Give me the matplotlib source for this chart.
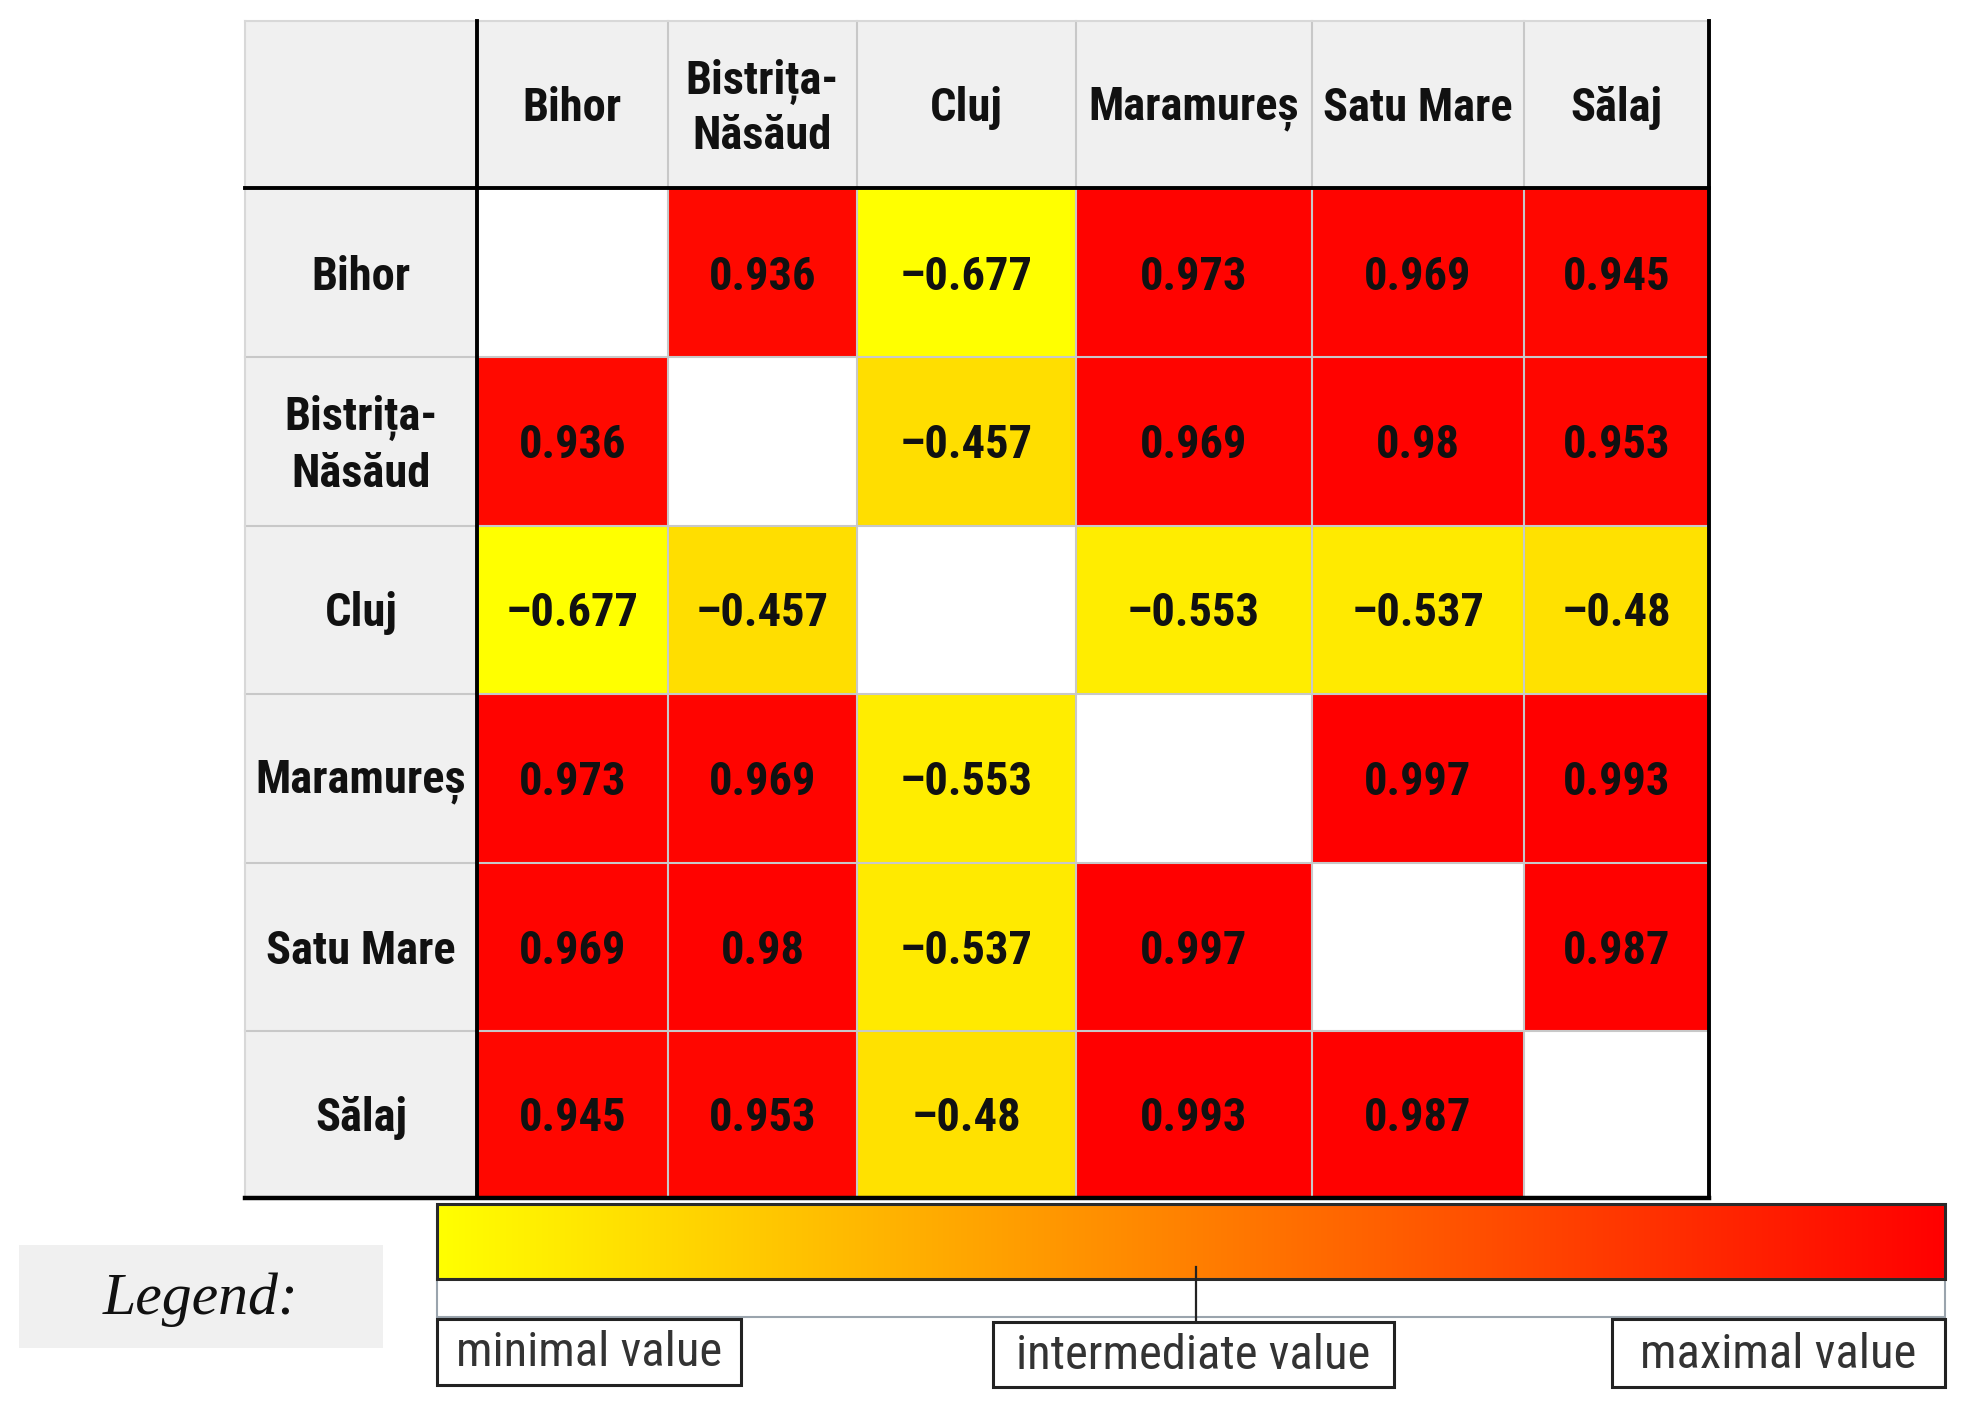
import matplotlib
matplotlib.use("Agg")
import matplotlib.pyplot as plt
import numpy as np
from matplotlib import font_manager as fm
from matplotlib.colors import LinearSegmentedColormap, Normalize
from matplotlib.patches import Rectangle

counties = ["Bihor", "Bistrița-\nNăsăud", "Cluj", "Maramureș", "Satu Mare", "Sălaj"]
row_labels = ["Bihor", "Bistrița-\nNăsăud", "Cluj", "Maramureș", "Satu Mare", "Sălaj"]
corr = [
    [None, 0.936, -0.677, 0.973, 0.969, 0.945],
    [0.936, None, -0.457, 0.969, 0.98, 0.953],
    [-0.677, -0.457, None, -0.553, -0.537, -0.48],
    [0.973, 0.969, -0.553, None, 0.997, 0.993],
    [0.969, 0.98, -0.537, 0.997, None, 0.987],
    [0.945, 0.953, -0.48, 0.993, 0.987, None],
]
legend_labels = ["minimal value", "intermediate value", "maximal value"]

installed = {f.name for f in fm.fontManager.ttflist}


def pick(cands):
    for c in cands:
        if c in installed:
            return [c, "DejaVu Sans"]
    return ["DejaVu Sans"]


FONT = pick(["Roboto Condensed", "Barlow Semi Condensed", "Archivo Narrow", "Asap Condensed"])
LFONT = pick(["Roboto Condensed", "Archivo Narrow", "Asap Condensed"])
SERIF = pick(["Liberation Serif", "DejaVu Serif"])

# layout (canvas units)
col_edges = [195, 380, 532, 683, 857, 1045, 1214, 1362]
row_edges = [17, 150, 285, 419, 553, 688, 822, 955]

cmap = LinearSegmentedColormap.from_list("ylrd", ["#FFFF00", "#FF8000", "#FF0000"])
vals = [v for r in corr for v in r if v is not None]
norm = Normalize(vmin=min(vals), vmax=max(vals))

fig = plt.figure(figsize=(19.68, 14.11), dpi=100)
ax = fig.add_axes([0, 0, 1, 1])
ax.set_xlim(0, 1568)
ax.set_ylim(1125, 0)
ax.axis("off")

HDR = "#F0F0F0"
fs = 33.5
TXT = "#111111"
dy = 3

# header cells
ax.add_patch(Rectangle((col_edges[0], row_edges[0]), col_edges[-1] - col_edges[0],
                       row_edges[1] - row_edges[0], facecolor=HDR, edgecolor="none", zorder=1))
ax.add_patch(Rectangle((col_edges[0], row_edges[0]), col_edges[1] - col_edges[0],
                       row_edges[-1] - row_edges[0], facecolor=HDR, edgecolor="none", zorder=1))

for j, name in enumerate(counties):
    cx = (col_edges[j + 1] + col_edges[j + 2]) / 2
    cy = (row_edges[0] + row_edges[1]) / 2 + dy
    ax.text(cx, cy, name, ha="center", va="center", fontsize=fs, fontweight="bold",
            family=FONT, color=TXT, linespacing=1.25, zorder=5)
for i, name in enumerate(row_labels):
    cx = (col_edges[0] + col_edges[1]) / 2
    cy = (row_edges[i + 1] + row_edges[i + 2]) / 2 + dy
    ax.text(cx, cy, name, ha="center", va="center", fontsize=fs, fontweight="bold",
            family=FONT, color=TXT, linespacing=1.3, zorder=5)

for i, row in enumerate(corr):
    for j, v in enumerate(row):
        x0, x1 = col_edges[j + 1], col_edges[j + 2]
        y0, y1 = row_edges[i + 1], row_edges[i + 2]
        fc = "white" if v is None else cmap(norm(v))
        ax.add_patch(Rectangle((x0, y0), x1 - x0, y1 - y0, facecolor=fc, edgecolor="none", zorder=1))
        if v is not None:
            txt = f"{v:g}".replace("-", "\u2013")
            ax.text((x0 + x1) / 2, (y0 + y1) / 2 + dy, txt, ha="center", va="center", fontsize=fs,
                    fontweight="bold", family=FONT, color=TXT, zorder=5)

# inner grid lines
for x in col_edges[2:-1]:
    ax.plot([x, x], [row_edges[0], row_edges[-1]], color="#C8C8C8", lw=1.5, zorder=3)
for y in row_edges[2:-1]:
    ax.plot([col_edges[0], col_edges[-1]], [y, y], color="#C8C8C8", lw=1.5, zorder=3)
ax.plot([col_edges[0], col_edges[-1]], [row_edges[0]] * 2, color="#D8D8D8", lw=1.5, zorder=3)
ax.plot([col_edges[0]] * 2, [row_edges[0], row_edges[-1]], color="#D8D8D8", lw=1.5, zorder=3)
# thick black lines
ax.plot([col_edges[1]] * 2, [row_edges[0], row_edges[-1]], color="black", lw=2.8, zorder=4)
ax.plot([col_edges[0], col_edges[-1]], [row_edges[1]] * 2, color="black", lw=2.8, zorder=4)
ax.plot([col_edges[-1]] * 2, [row_edges[0], row_edges[-1]], color="black", lw=2.8, zorder=4)
ax.plot([col_edges[0], col_edges[-1]], [row_edges[-1]] * 2, color="black", lw=3.2, zorder=4)

# legend gradient bar
bx0, bx1, by0, by1 = 348, 1550, 960, 1020
grad = np.linspace(0, 1, 512).reshape(1, -1)
ax.imshow(grad, cmap=cmap, extent=[bx0, bx1, by1, by0], aspect="auto", zorder=2,
          interpolation="bilinear")
ax.add_patch(Rectangle((bx0, by0), bx1 - bx0, by1 - by0, facecolor="none",
                       edgecolor="#2a2a2a", lw=2.2, zorder=4))
# bracket under bar
ax.add_patch(Rectangle((bx0, by1), bx1 - bx0, 30, facecolor="white",
                       edgecolor="#9aa4ad", lw=1.5, zorder=2))
mx = (bx0 + bx1) / 2 + 4
ax.plot([mx, mx], [1010, 1054], color="#222222", lw=1.6, zorder=5)

# legend label boxes
boxes = [(348, 590, 1052, 1104), (791, 1111, 1054, 1106), (1284, 1550, 1052, 1106)]
for (x0, x1, y0, y1), lab in zip(boxes, legend_labels):
    ax.add_patch(Rectangle((x0, y0), x1 - x0, y1 - y0, facecolor="white",
                           edgecolor="#222222", lw=2.2, zorder=4))
    ax.text((x0 + x1) / 2, (y0 + y1) / 2 + 1, lab, ha="center", va="center", fontsize=35,
            family=LFONT, color="#333333", zorder=5)

# "Legend:" box
ax.add_patch(Rectangle((15, 993), 290, 82, facecolor=HDR, edgecolor="none", zorder=1))
ax.text(160, 1036, "Legend:", ha="center", va="center", fontsize=43, style="italic",
        family=SERIF, color=TXT, zorder=5)

fig.savefig("out.png", dpi=100, facecolor="white")
